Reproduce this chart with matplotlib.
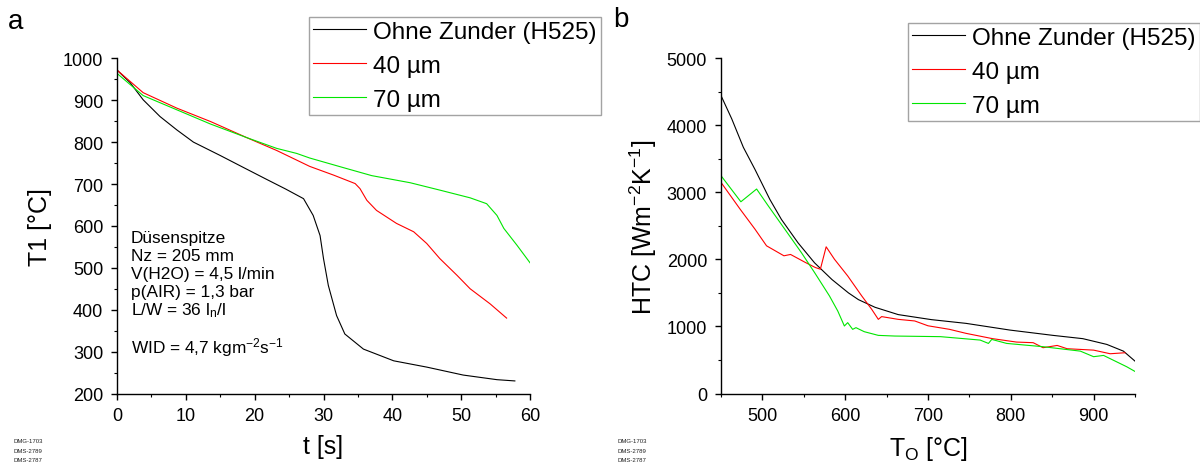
import matplotlib
matplotlib.use("Agg")
import matplotlib.pyplot as plt
from matplotlib.ticker import MultipleLocator

plt.rcParams['font.family'] = ['Liberation Sans', 'DejaVu Sans']
plt.rcParams['mathtext.default'] = 'regular'

# ---- panel a data: T1 vs time ----
t_black = [0, 1.9, 3.8, 6.25, 8.7, 11.1, 15, 18.3, 21.5, 24.5, 27.1, 28.5, 29.5, 30, 30.7, 31.9, 33.1, 35.8,
           40.2, 45, 50.3, 55.2, 57.8]
T_black = [972, 942, 901, 861, 829, 800, 768, 740, 713, 688, 665, 625, 577, 522, 458, 386, 342, 306,
           278, 263, 244, 233, 230]
t_red = [0, 3.8, 8.7, 13.6, 18.8, 23.2, 28, 31.5, 34.6, 35.3, 36.3, 37.7, 40.6, 43.1, 45, 46.9, 49.4, 51.3,
         54.2, 56.6]
T_red = [972, 918, 881, 849, 811, 780, 742, 721, 701, 689, 661, 637, 606, 586, 558, 522, 482, 450, 414, 380]
t_green = [0, 3.8, 8.7, 13.6, 18.8, 23.2, 26.1, 28, 32.9, 37, 42.6, 47, 51.3, 53.7, 55.2, 56.2, 58.1, 60]
T_green = [964, 911, 877, 843, 811, 785, 773, 762, 739, 720, 703, 685, 667, 653, 625, 594, 554, 512]

# ---- panel b data: HTC vs surface temperature ----
x_black = [450, 463, 477, 491, 509, 523, 543, 563, 584, 604, 616, 636, 664, 704, 746, 799, 851, 887, 916,
           936, 950]
h_black = [4444, 4096, 3672, 3343, 2895, 2596, 2248, 1949, 1700, 1500, 1400, 1286, 1177, 1102, 1046, 946,
           867, 818, 732, 632, 483]
x_red = [450, 473, 491, 505, 526, 534, 552, 564, 570, 577, 587, 603, 620, 632, 640, 644, 664, 684, 700, 726,
         746, 778, 807, 827, 839, 856, 868, 900, 920, 938]
h_red = [3149, 2751, 2452, 2203, 2054, 2074, 1954, 1879, 1854, 2188, 2003, 1754, 1455, 1256, 1106, 1147,
         1106, 1082, 1010, 957, 897, 818, 767, 758, 683, 717, 668, 647, 593, 608]
x_green = [450, 474, 493, 507, 527, 547, 563, 581, 591, 599, 603, 609, 613, 623, 640, 660, 715, 763, 773,
           777, 795, 839, 884, 900, 912, 940, 950]
h_green = [3249, 2860, 3050, 2800, 2452, 2103, 1804, 1455, 1231, 1007, 1057, 957, 982, 922, 867, 857, 848,
           797, 747, 807, 747, 698, 632, 549, 568, 399, 329]

labels = ["Ohne Zunder (H525)", "40 µm", "70 µm"]
colors = ["#000000", "#ff0000", "#00e600"]
annotation = ["Düsenspitze", "Nz = 205 mm", "V(H2O) = 4,5 l/min", "p(AIR) = 1,3 bar",
              "L/W = 36 l$_n$/l", "", "WID = 4,7 kgm$^{-2}$s$^{-1}$"]
ids = ["DMG-1703", "DMS-2789", "DMS-2787"]

W, H = 1200, 464
fig = plt.figure(figsize=(W / 100, H / 100), dpi=100)

def fx(px):
    return px / W

def fy(py):
    return 1 - py / H

axa = fig.add_axes([fx(117), fy(394.5), fx(530 - 117), (394.5 - 59.3) / H])
axb = fig.add_axes([fx(721), fy(394.5), fx(1135 - 721), (394.5 - 59.3) / H])

lw = 0.8
la = []
for x, y, c, l in [(t_black, T_black, colors[0], labels[0]), (t_red, T_red, colors[1], labels[1]),
                   (t_green, T_green, colors[2], labels[2])]:
    la += axa.plot(x, y, color=c, lw=lw, label=l)
lb = []
for x, y, c, l in [(x_black, h_black, colors[0], labels[0]), (x_red, h_red, colors[1], labels[1]),
                   (x_green, h_green, colors[2], labels[2])]:
    lb += axb.plot(x, y, color=c, lw=lw, label=l)

axa.set_xlim(0, 60)
axa.set_ylim(200, 1000)
axa.xaxis.set_major_locator(MultipleLocator(10))
axa.xaxis.set_minor_locator(MultipleLocator(5))
axa.yaxis.set_major_locator(MultipleLocator(100))
axa.yaxis.set_minor_locator(MultipleLocator(50))

axb.set_xlim(450, 950)
axb.set_ylim(0, 5000)
axb.set_xticks([500, 600, 700, 800, 900])
axb.xaxis.set_minor_locator(MultipleLocator(50))
axb.yaxis.set_major_locator(MultipleLocator(1000))
axb.yaxis.set_minor_locator(MultipleLocator(500))

for ax in (axa, axb):
    ax.spines['top'].set_visible(False)
    ax.spines['right'].set_visible(False)
    for s in ('left', 'bottom'):
        ax.spines[s].set_linewidth(1.0)
    ax.tick_params(which='major', direction='out', length=4, width=1.0, labelsize=13, pad=6)
    ax.tick_params(which='minor', direction='out', length=2.5, width=0.8)
    ax.set_facecolor('none')

axa.set_xlabel("t [s]", fontsize=18, labelpad=7)
axa.set_ylabel("T1 [°C]", fontsize=18, labelpad=7.5)
axb.set_xlabel("T$_O$ [°C]", fontsize=18, labelpad=7)
axb.set_ylabel("HTC [Wm$^{-2}$K$^{-1}$]", fontsize=18, labelpad=5.5)

for i, line in enumerate(annotation):
    if line:
        fig.text(fx(131), fy(238 + 18.2 * i), line, fontsize=12.4, va='center', ha='left')

fig.text(fx(16), fy(22), "a", fontsize=20, ha='center', va='center')
fig.text(fx(621), fy(20), "b", fontsize=20, ha='center', va='center')

for i, s in enumerate(ids):
    fig.text(fx(14), fy(442 + 9.5 * i), s, fontsize=4.3, ha='left', va='center', color='#222222')
    fig.text(fx(618), fy(442 + 9.5 * i), s, fontsize=4.3, ha='left', va='center', color='#222222')

leg_kw = dict(fontsize=17.5, frameon=True, fancybox=False, shadow=False, handlelength=2.2,
              handletextpad=0.3, labelspacing=0.5, borderpad=0.15, borderaxespad=0, loc='upper left')
lega = fig.legend(la, labels, bbox_to_anchor=(fx(309), fy(18)), **leg_kw)
legb = fig.legend(lb, labels, bbox_to_anchor=(fx(908), fy(24)), **leg_kw)
for lg in (lega, legb):
    lg.get_frame().set_edgecolor('#8c8c8c')
    lg.get_frame().set_linewidth(1.0)
    for h in lg.legend_handles:
        h.set_linewidth(0.8)

fig.savefig("out.png", dpi=100)
